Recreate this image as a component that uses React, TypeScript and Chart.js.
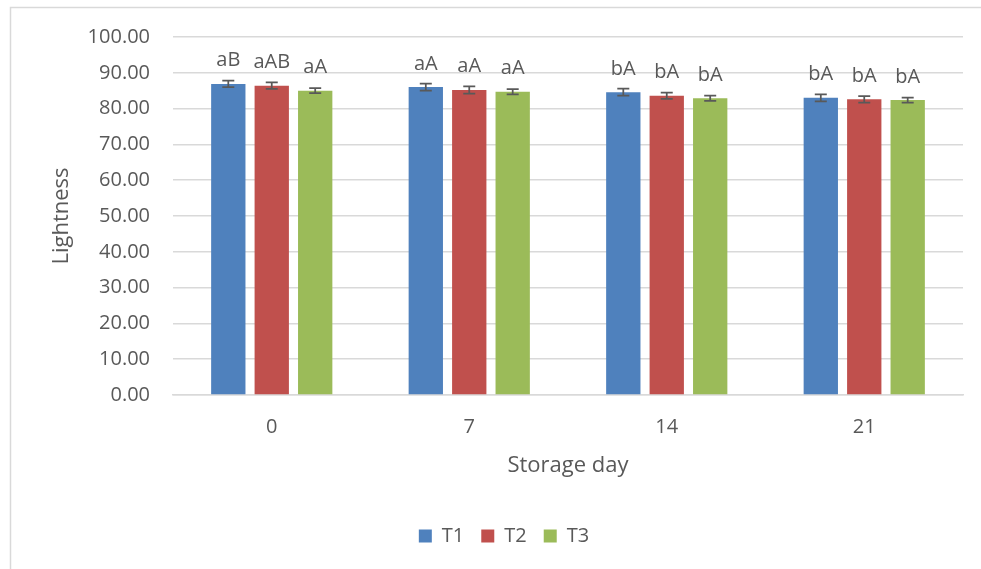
import React, { useEffect, useRef } from 'react';
import { Chart, registerables } from 'chart.js';

Chart.register(...registerables);

const categories = ['0', '7', '14', '21'];
const seriesNames = ['T1', 'T2', 'T3'];
const t1Values = [86.9, 86.0, 84.6, 83.0];
const t2Values = [86.4, 85.2, 83.6, 82.6];
const t3Values = [85.0, 84.7, 82.9, 82.4];
const t1Errors = [0.9, 1.0, 0.95, 0.95];
const t2Errors = [0.9, 1.0, 0.85, 0.9];
const t3Errors = [0.7, 0.75, 0.75, 0.7];
const t1Letters = ['aB', 'aA', 'bA', 'bA'];
const t2Letters = ['aAB', 'aA', 'bA', 'bA'];
const t3Letters = ['aA', 'aA', 'bA', 'bA'];
const yTicks = [0, 10, 20, 30, 40, 50, 60, 70, 80, 90, 100];

const colors = ['#4F81BD', '#C0504D', '#9BBB59'];
const errors = [t1Errors, t2Errors, t3Errors];
const letters = [t1Letters, t2Letters, t3Letters];
const textColor = '#595959';
const fontFamily = '"Open Sans", "Liberation Sans", sans-serif';

const frame = {
  id: 'frame',
  beforeDraw(chart: any) {
    const ctx = chart.ctx;
    ctx.save();
    ctx.fillStyle = '#ffffff';
    ctx.fillRect(0, 0, chart.width, chart.height);
    ctx.strokeStyle = '#d9d9d9';
    ctx.lineWidth = 1.5;
    ctx.beginPath();
    ctx.moveTo(10.5, chart.height + 5);
    ctx.lineTo(10.5, 7.5);
    ctx.lineTo(chart.width + 5, 7.5);
    ctx.stroke();
    ctx.restore();
  },
};

const errorBarsAndLabels = {
  id: 'errorBarsAndLabels',
  afterDatasetsDraw(chart: any) {
    const ctx = chart.ctx;
    const yScale = chart.scales.y;
    ctx.save();
    chart.data.datasets.forEach((ds: any, di: number) => {
      const meta = chart.getDatasetMeta(di);
      meta.data.forEach((bar: any, i: number) => {
        const v = ds.data[i];
        const e = errors[di][i];
        const x = bar.x;
        const yTop = yScale.getPixelForValue(v + e);
        const yBot = yScale.getPixelForValue(v - e);
        ctx.strokeStyle = '#595959';
        ctx.lineWidth = 1.75;
        ctx.beginPath();
        ctx.moveTo(x, yTop);
        ctx.lineTo(x, yBot);
        ctx.moveTo(x - 6, yTop);
        ctx.lineTo(x + 6, yTop);
        ctx.moveTo(x - 6, yBot);
        ctx.lineTo(x + 6, yBot);
        ctx.stroke();
        ctx.fillStyle = textColor;
        ctx.font = `20px ${fontFamily}`;
        ctx.textAlign = 'center';
        ctx.textBaseline = 'alphabetic';
        ctx.fillText(letters[di][i], x, bar.y - 17.5);
      });
    });
    ctx.restore();
  },
};

export default function App() {
  const ref = useRef<HTMLCanvasElement>(null);
  useEffect(() => {
    const values = [t1Values, t2Values, t3Values];
    const chart = new Chart(ref.current as HTMLCanvasElement, {
      type: 'bar',
      data: {
        labels: categories,
        datasets: seriesNames.map((name, i) => ({
          label: name,
          data: values[i],
          backgroundColor: colors[i],
          borderWidth: 0,
          categoryPercentage: 0.66,
          barPercentage: 0.79,
        })),
      },
      options: {
        responsive: false,
        animation: false,
        devicePixelRatio: 1,
        layout: { padding: { left: 45, top: 37, right: 18, bottom: 13 } },
        plugins: {
          legend: {
            position: 'bottom',
            labels: {
              boxWidth: 13,
              boxHeight: 13,
              padding: 17,
              color: textColor,
              font: { size: 20, family: fontFamily },
            },
          },
          tooltip: { enabled: false },
        },
        scales: {
          x: {
            grid: { display: false, drawTicks: false },
            border: { display: true, color: '#d9d9d9', width: 1.5 },
            ticks: { color: textColor, font: { size: 20, family: fontFamily }, padding: 20 },
            title: {
              display: true,
              text: 'Storage day',
              color: textColor,
              font: { size: 22, family: fontFamily },
              padding: { top: 0, bottom: 30 },
            },
            afterFit: (scale: any) => {
              scale.height = 114;
            },
          },
          y: {
            min: 0,
            max: 100,
            afterBuildTicks: (scale: any) => {
              scale.ticks = yTicks.map((v) => ({ value: v }));
            },
            grid: { color: '#d9d9d9', lineWidth: 1.5, drawTicks: false },
            border: { display: false },
            ticks: {
              color: textColor,
              font: { size: 20, family: fontFamily },
              padding: 23,
              callback: (v: any) => Number(v).toFixed(2),
            },
            title: {
              display: true,
              text: 'Lightness',
              color: textColor,
              font: { size: 22, family: fontFamily },
              padding: { top: 4, bottom: 0 },
            },
            afterFit: (scale: any) => {
              scale.width = 128;
            },
          },
        },
      },
      plugins: [frame, errorBarsAndLabels],
    } as any);
    return () => chart.destroy();
  }, []);
  return (
    <div style={{ position: 'fixed', left: 0, top: 0, width: 981, height: 569, background: '#fff' }}>
      <canvas ref={ref} width={981} height={569} style={{ display: 'block' }} />
    </div>
  );
}
